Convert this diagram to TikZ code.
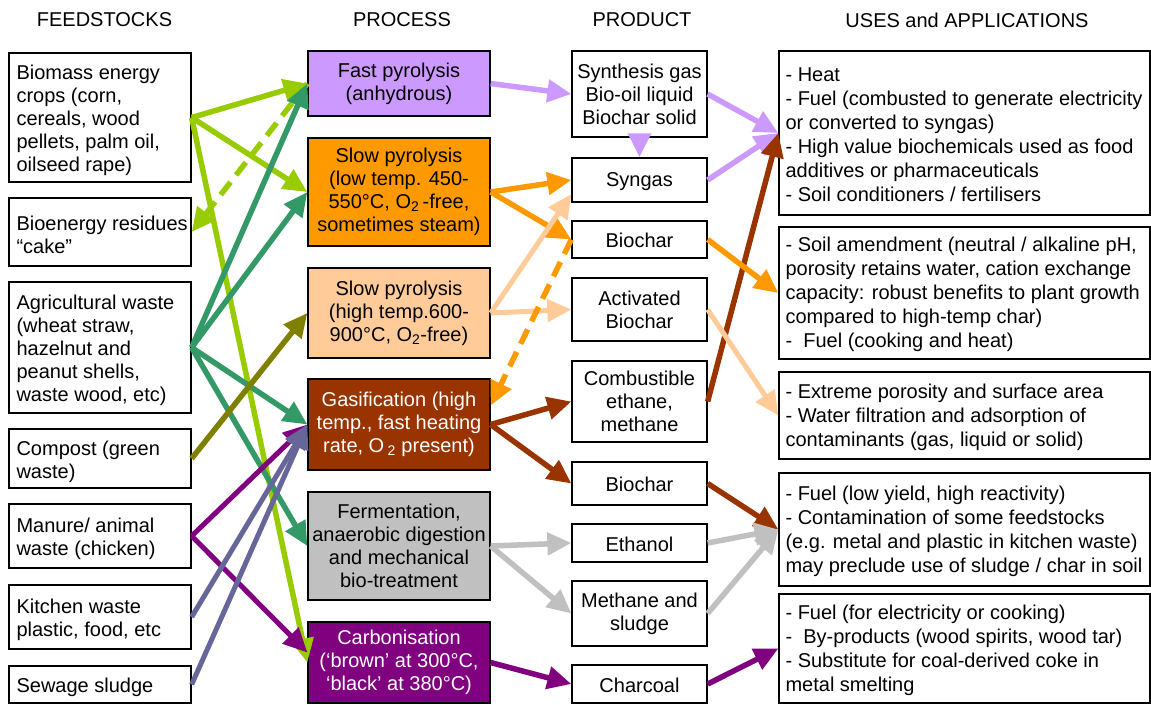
\documentclass[tikz,border=0pt]{standalone}
\usepackage{fontspec}
\setmainfont{Liberation Sans}
\usetikzlibrary{arrows.meta,calc}
\definecolor{lgreen}{HTML}{99CC00}
\definecolor{teal2}{HTML}{339966}
\definecolor{olive2}{HTML}{808000}
\definecolor{purp}{HTML}{800080}
\definecolor{slate}{HTML}{666699}
\definecolor{lav}{HTML}{CC99FF}
\definecolor{orng}{HTML}{FF9900}
\definecolor{peach}{HTML}{FFCC99}
\definecolor{brwn}{HTML}{993300}
\definecolor{gry}{HTML}{C0C0C0}
\begin{document}
\begin{tikzpicture}[x=1pt,y=-1pt,
  every node/.style={font=\fontsize{20}{23}\selectfont},
  bx/.style={draw=black,line width=1.3pt,inner sep=0pt},
  feedbox/.style={bx,minimum width=182pt},
  procbox/.style={bx,minimum width=182pt,align=center,execute at begin node={\rule{0pt}{19pt}}},
  prodbox/.style={bx,minimum width=135pt,align=center,fill=white,execute at begin node={\rule{0pt}{17pt}}},
  usebox/.style={bx,minimum width=371pt},
  ltxt/.style={anchor=west,align=left,inner sep=0pt,yshift=-3pt},
  utxt/.style={ltxt,font=\fontsize{20}{24}\selectfont,yshift=1.5pt},
  hdr/.style={inner sep=0pt},
  arr/.style={line width=5.5pt,line cap=butt,-{Triangle[length=24pt,width=22pt]}},
  dsh/.style={dash pattern=on 16pt off 9pt},
]
\useasboundingbox (0,0) rectangle (1151,704);

% headers
\node[hdr] (h1) at (104.5,20) {FEEDSTOCKS};
\node[hdr] (h2) at (402,20) {PROCESS};
\node[hdr] (h3) at (642,20) {PRODUCT};
\node[hdr] (h4) at (967,20) {USES and APPLICATIONS};

% feedstocks
\node[feedbox,minimum height=129pt] (bio) at (100,117.5) {};
\node[ltxt] (biot) at ([xshift=8pt]bio.west) {Biomass energy\\crops (corn,\\cereals, wood\\pellets, palm oil,\\oilseed rape)};
\node[feedbox,minimum height=68pt] (res) at (100,232) {};
\node[ltxt] (rest) at ([xshift=8pt]res.west) {Bioenergy residues\\“cake”};
\node[feedbox,minimum height=131pt] (agr) at (100,347.5) {};
\node[ltxt] (agrt) at ([xshift=8pt]agr.west) {Agricultural waste\\(wheat straw,\\hazelnut and\\peanut shells,\\waste wood, etc)};
\node[feedbox,minimum height=59pt] (comp) at (100,458.5) {};
\node[ltxt] (compt) at ([xshift=8pt]comp.west) {Compost (green\\waste)};
\node[feedbox,minimum height=64pt] (man) at (100,536) {};
\node[ltxt] (mant) at ([xshift=8pt]man.west) {Manure/ animal\\waste (chicken)};
\node[feedbox,minimum height=64pt] (kit) at (100,617) {};
\node[ltxt] (kitt) at ([xshift=8pt]kit.west) {Kitchen waste\\plastic, food, etc};
\node[feedbox,minimum height=37pt] (sew) at (100,684.5) {};
\node[ltxt] (sewt) at ([xshift=8pt]sew.west) {Sewage sludge};

% processes
\node[procbox,fill=lav,minimum height=65pt] (fast) at (399,83.5) {Fast pyrolysis\\(anhydrous)};
\node[procbox,fill=orng,minimum height=108pt] (slowlo) at (399,192) {Slow pyrolysis\\(low temp. 450-\\550°C, O\textsubscript{2}\,-free,\\sometimes steam)};
\node[procbox,fill=peach,minimum height=90pt] (slowhi) at (399,313) {Slow pyrolysis\\(high temp.600-\\900°C, O\textsubscript{2}-free)};
\node[procbox,fill=brwn,text=white,minimum height=91pt] (gas) at (399,424.5) {Gasification (high\\temp., fast heating\\rate, O\,\textsubscript{2} present)};
\node[procbox,fill=gry,minimum height=108pt] (ferm) at (399,546) {Fermentation,\\anaerobic digestion\\and mechanical\\bio-treatment};
\node[procbox,fill=purp,text=white,minimum height=81pt] (carb) at (399,662.5) {Carbonisation\\(‘brown’ at 300°C,\\‘black’ at 380°C)};

% products
\node[prodbox,minimum height=86pt] (synth) at (639.5,94) {Synthesis gas\\Bio-oil liquid\\Biochar solid};
\node[prodbox,minimum height=44pt] (syn) at (639.5,180) {Syngas};
\node[prodbox,minimum height=37pt] (bc1) at (639.5,239.5) {Biochar};
\node[prodbox,minimum height=63pt] (act) at (639.5,309.5) {Activated\\Biochar};
\node[prodbox,minimum height=81pt] (comb) at (639.5,401.5) {Combustible\\ethane,\\methane};
\node[prodbox,minimum height=43pt] (bc2) at (639.5,483.5) {Biochar};
\node[prodbox,minimum height=38pt] (eth) at (639.5,543) {Ethanol};
\node[prodbox,minimum height=65pt] (meth) at (639.5,613.5) {Methane and\\sludge};
\node[prodbox,minimum height=38pt] (char) at (639.5,684) {Charcoal};

% uses
\node[usebox,minimum height=164pt] (u1) at (964.5,133) {};
\node[utxt] (u1t) at ([xshift=7pt]u1.west) {- Heat\\- Fuel (combusted to generate electricity\\or converted to syngas)\\- High value biochemicals used as food\\additives or pharmaceuticals\\- Soil conditioners / fertilisers};
\node[usebox,minimum height=132pt] (u2) at (964.5,293) {};
\node[utxt] (u2t) at ([xshift=7pt]u2.west) {- Soil amendment (neutral / alkaline pH,\\porosity retains water, cation exchange\\capacity: robust benefits to plant growth\\compared to high-temp char)\\-~ Fuel (cooking and heat)};
\node[usebox,minimum height=87pt] (u3) at (964.5,415.5) {};
\node[utxt] (u3t) at ([xshift=7pt]u3.west) {- Extreme porosity and surface area\\- Water filtration and adsorption of\\contaminants (gas, liquid or solid)};
\node[usebox,minimum height=113pt] (u4) at (964.5,529.5) {};
\node[utxt] (u4t) at ([xshift=7pt]u4.west) {- Fuel (low yield, high reactivity)\\- Contamination of some feedstocks\\(e.g. metal and plastic in kitchen waste)\\may preclude use of sludge / char in soil};
\node[usebox,minimum height=109pt] (u5) at (964.5,648.5) {};
\node[utxt] (u5t) at ([xshift=7pt]u5.west) {- Fuel (for electricity or cooking)\\-~ By-products (wood spirits, wood tar)\\- Substitute for coal-derived coke in\\metal smelting};

% feedstock -> process
\draw[arr,lgreen] (bio.east) -- (fast.west);
\draw[arr,lgreen] (bio.east) -- (slowlo.west);
\draw[arr,lgreen] (bio.east) -- (carb.west);
\draw[arr,lgreen,dsh] (fast.west) -- (res.east);
\draw[arr,teal2] (agr.east) -- (fast.west);
\draw[arr,teal2] (agr.east) -- (slowlo.west);
\draw[arr,teal2] (agr.east) -- (gas.west);
\draw[arr,teal2] (agr.east) -- (ferm.west);
\draw[arr,olive2] (comp.east) -- (slowhi.west);
\draw[arr,purp,line width=5pt] (man.east) -- (gas.west);
\draw[arr,purp,line width=5pt] (man.east) -- ($(carb.west)+(0,-10)$);
\draw[arr,slate,line width=5pt] (kit.east) -- (gas.west);
\draw[arr,slate,line width=5pt] (sew.east) -- (gas.west);

% process -> product
\draw[arr,lav] (fast.east) -- (synth.west);
\draw[arr,lav] (synth.south) -- (syn.north);
\draw[arr,orng] (slowlo.east) -- (syn.west);
\draw[arr,orng] (slowlo.east) -- (bc1.west);
\draw[arr,peach,line width=5pt] (slowhi.east) -- ($(syn.west)+(0,14)$);
\draw[arr,peach,line width=5pt] (slowhi.east) -- (act.west);
\draw[arr,orng,dsh] (bc1.west) -- ($(gas.east)+(0,-19)$);
\draw[arr,brwn] (gas.east) -- (comb.west);
\draw[arr,brwn] (gas.east) -- (bc2.west);
\draw[arr,gry] (ferm.east) -- (eth.west);
\draw[arr,gry] (ferm.east) -- (meth.west);
\draw[arr,purp] (carb.east) -- (char.west);

% product -> uses
\draw[arr,lav] (synth.east) -- (u1.west);
\draw[arr,lav] (syn.east) -- (u1.west);
\draw[arr,brwn] (comb.east) -- (u1.west);
\draw[arr,orng] (bc1.east) -- (u2.west);
\draw[arr,peach,line width=5pt] (act.east) -- (u3.west);
\draw[arr,brwn] (bc2.east) -- (u4.west);
\draw[arr,gry] (eth.east) -- (u4.west);
\draw[arr,gry] (meth.east) -- (u4.west);
\draw[arr,purp] (char.east) -- (u5.west);
\end{tikzpicture}
\end{document}
